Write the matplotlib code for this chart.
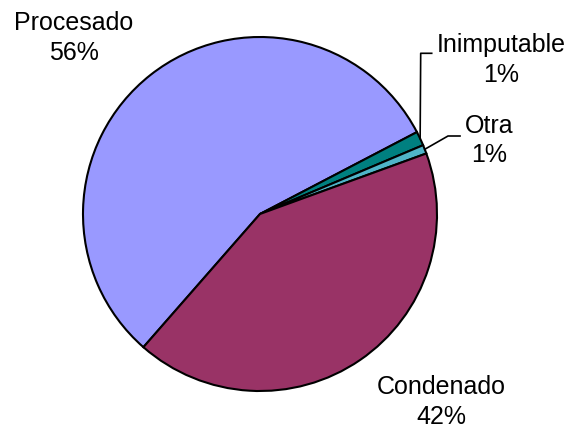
import numpy as np
import matplotlib
matplotlib.use("Agg")
import matplotlib.pyplot as plt

# slice data
categories = ["Procesado", "Inimputable", "Otra", "Condenado"]
values = [55.9, 1.3, 0.8, 42.0]
colours = ["#9999ff", "#008080", "#4fb4c8", "#993366"]

W, H = 577, 428
cx, cy, R = 260, 214, 177  # pie centre / radius in pixels


def px(x, y):
    # pixel position (from top-left) -> data units
    return (x - cx) / R, (cy - y) / R


fig = plt.figure(figsize=(W / 100, H / 100), dpi=100)
ax = fig.add_axes([0, 0, 1, 1])
ax.set_xlim(-cx / R, (W - cx) / R)
ax.set_ylim(-(H - cy) / R, cy / R)
ax.axis("off")

wedges, _ = ax.pie(values, colors=colours, startangle=228.8, counterclock=False,
                   radius=1, center=(0, 0), frame=True,
                   wedgeprops=dict(edgecolor="black", linewidth=1.5))
ax.set_xlim(-cx / R, (W - cx) / R)
ax.set_ylim(-(H - cy) / R, cy / R)
ax.set_aspect("auto")
ax.axis("off")

total = sum(values)
labels = ["%s\n%d%%" % (c, round(v / total * 100)) for c, v in zip(categories, values)]

font = dict(family=["Liberation Sans", "DejaVu Sans"], fontsize=18, linespacing=1.3)

# label positions (pixels)
label_pos = {"Procesado": (74, 38), "Inimputable": (501, 60),
             "Otra": (489.5, 140.5), "Condenado": (441.7, 402)}

for lab, c in zip(labels, categories):
    x, y = px(*label_pos[c])
    ax.text(x, y, lab, ha="center", va="center", **font)

# leader lines for the two small slices
elbows = {"Inimputable": [(420.7, 53.3), (431.7, 53.3)],
          "Otra": [(448, 136), (460, 136)]}
for w, c in zip(wedges, categories):
    if c not in elbows:
        continue
    mid = np.deg2rad((w.theta1 + w.theta2) / 2)
    xs = [np.cos(mid)] + [px(*p)[0] for p in elbows[c]]
    ys = [np.sin(mid)] + [px(*p)[1] for p in elbows[c]]
    ax.plot(xs, ys, color="black", linewidth=1.2)

fig.savefig("out.png", dpi=100, facecolor="white")
